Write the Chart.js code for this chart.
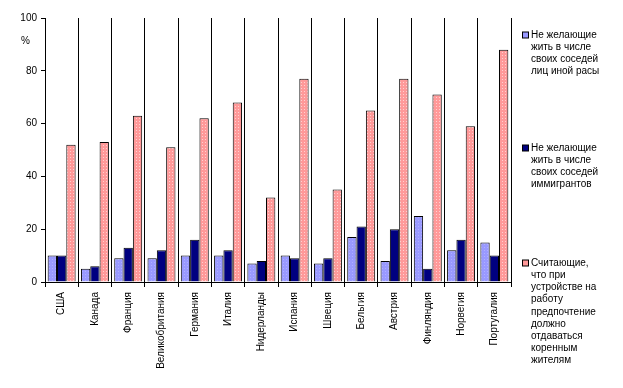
<!DOCTYPE html>
<html><head><meta charset="utf-8">
<script src="https://cdn.jsdelivr.net/npm/chart.js@4.4.1/dist/chart.umd.min.js"></script>
<style>html,body{margin:0;padding:0;background:#fff;}canvas{display:block;}</style>
</head><body>
<canvas id="c" width="623" height="388"></canvas>
<script>
const categories = ["США","Канада","Франция","Великобритания","Германия","Италия","Нидерланды","Испания","Швеция","Бельгия","Австрия","Финляндия","Норвегия","Португалия"];
const seriesNames = [
  ["Не желающие","жить в числе","своих соседей","лиц иной расы"],
  ["Не желающие","жить в числе","своих соседей","иммигрантов"],
  ["Считающие,","что при","устройстве на","работу","предпочтение","должно","отдаваться","коренным","жителям"]
];
const otherRace = [10,5,9,9,10,10,7,10,7,17,8,25,12,15];
const immigrants = [10,6,13,12,16,12,8,9,9,21,20,5,16,10];
const natives = [52,53,63,51,62,68,32,77,35,65,77,71,59,88];
const yTicks = [0,20,40,60,80,100];
const yUnit = "%";

function makePattern(base, dot){
  const p = document.createElement('canvas'); p.width = 3; p.height = 3;
  const g = p.getContext('2d');
  g.fillStyle = base; g.fillRect(0,0,3,3);
  g.fillStyle = dot; g.fillRect(1,1,1,1);
  return g.createPattern(p,'repeat');
}
const ctx = document.getElementById('c').getContext('2d');
const pinkFill = makePattern('#FF9999','#FFD0D0');
const blueFill = makePattern('#9999FF','#B0B0FF');
const colors = [blueFill, '#000080', pinkFill];
const swatch = ['#9999FF','#000080','#FF9999'];
const legendTop = [35, 148, 263];

const font = {family:'"Liberation Sans", Arial, sans-serif', size:10};

const extras = {
  id:'extras',
  afterDraw(chart){
    const c = chart.ctx;
    c.save();
    c.font = '10px "Liberation Sans", Arial, sans-serif';
    c.fillStyle = '#000';
    c.textBaseline = 'middle';
    c.textAlign = 'left';
    c.fillText(yUnit, 21, 41);
    seriesNames.forEach((lines, i) => {
      const y0 = legendTop[i];
      c.fillStyle = swatch[i];
      c.fillRect(522.5, y0-3, 6, 6);
      c.strokeStyle = '#000'; c.lineWidth = 1;
      c.strokeRect(522.5, y0-3, 6, 6);
      c.fillStyle = '#000';
      lines.forEach((t, j) => c.fillText(t, 531, y0 + j*12.2));
    });
    c.restore();
  }
};

new Chart(ctx, {
  type:'bar',
  data:{
    labels: categories,
    datasets:[
      {label: seriesNames[0].join(' '), data: otherRace, backgroundColor: colors[0], borderColor:'#000', borderWidth:1},
      {label: seriesNames[1].join(' '), data: immigrants, backgroundColor: colors[1], borderColor:'#000', borderWidth:1},
      {label: seriesNames[2].join(' '), data: natives, backgroundColor: colors[2], borderColor:'#000', borderWidth:1}
    ]
  },
  options:{
    responsive:false,
    animation:false,
    layout:{padding:{top:18,right:112,left:0,bottom:0}},
    datasets:{bar:{categoryPercentage:0.84, barPercentage:1.0}},
    plugins:{legend:{display:false}, tooltip:{enabled:false}},
    scales:{
      x:{
        grid:{color:'#000', offset:true, tickLength:5, lineWidth:1},
        border:{color:'#000'},
        ticks:{maxRotation:90, minRotation:90, font:font, color:'#000', padding:5, autoSkip:false},
        afterFit(s){ s.height = 106; }
      },
      y:{
        min:0, max:100,
        afterBuildTicks(s){ s.ticks = yTicks.map(v => ({value:v})); },
        ticks:{font:font, color:'#000', padding:4},
        grid:{drawOnChartArea:false, tickLength:4, color:'#000'},
        border:{color:'#000'},
        afterFit(s){ s.width = 45; }
      }
    }
  },
  plugins:[extras]
});
</script>
</body></html>
